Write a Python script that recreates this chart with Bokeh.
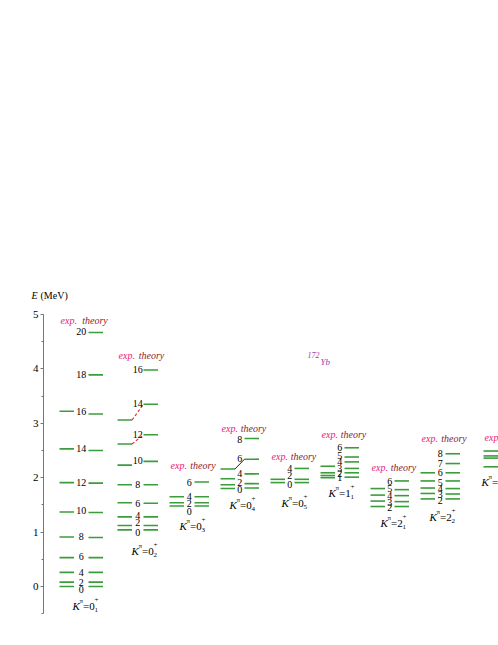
from bokeh.plotting import figure
from bokeh.models import Range1d, SingleIntervalTicker, Label
from bokeh.core.properties import value
from bokeh.embed import file_html
from bokeh.resources import INLINE

# ---------------- data ----------------
K_VAL = ["0", "0", "0", "0", "0", "1", "2", "2", "1"]
K_SUB = ["1", "2", "3", "4", "5", "1", "1", "2", "2"]

EXP_SPIN = [[0, 2, 4, 6, 8, 10, 12, 14, 16],
            [0, 2, 4, 6, 8, 10, 12, 14],
            [0, 2, 4],
            [0, 2, 4, 6],
            [0, 2],
            [1, 2, 3, 4],
            [2, 3, 4, 5],
            [2, 3, 4, 5, 6],
            [1, 2, 3, 4]]
EXP_E = [[0.00, 0.08, 0.26, 0.53, 0.91, 1.37, 1.91, 2.53, 3.22],
         [1.04, 1.12, 1.28, 1.54, 1.87, 2.23, 2.62, 3.06],
         [1.48, 1.54, 1.65],
         [1.80, 1.87, 1.98, 2.16],
         [1.91, 1.97],
         [2.00, 2.04, 2.09, 2.21],
         [1.47, 1.57, 1.68, 1.80],
         [1.61, 1.71, 1.81, 1.94, 2.09],
         [2.20, 2.36, 2.40, 2.49]]
TH_SPIN = [[0, 2, 4, 6, 8, 10, 12, 14, 16, 18, 20],
           [0, 2, 4, 6, 8, 10, 12, 14, 16],
           [0, 2, 4, 6],
           [0, 2, 4, 6, 8],
           [0, 2, 4],
           [1, 2, 3, 4, 5, 6],
           [2, 3, 4, 5, 6],
           [2, 3, 4, 5, 6, 7, 8],
           []]
TH_E = [[0.00, 0.08, 0.26, 0.53, 0.90, 1.36, 1.90, 2.50, 3.17, 3.89, 4.67],
        [1.04, 1.12, 1.28, 1.53, 1.87, 2.30, 2.79, 3.35, 3.98],
        [1.48, 1.54, 1.65, 1.92],
        [1.81, 1.89, 2.07, 2.34, 2.72],
        [1.91, 1.97, 2.17],
        [2.01, 2.09, 2.17, 2.29, 2.38, 2.55],
        [1.47, 1.56, 1.67, 1.78, 1.94],
        [1.61, 1.70, 1.80, 1.94, 2.09, 2.26, 2.44],
        []]
# where the spin numbers sit (spread apart where levels crowd)
LABEL_E = [[-0.06, 0.07, 0.25, 0.55, 0.915, 1.39, 1.91, 2.53, 3.22, 3.90, 4.68],
           [1.00, 1.17, 1.31, 1.53, 1.88, 2.31, 2.79, 3.37, 3.98],
           [1.37, 1.52, 1.66, 1.92],
           [1.78, 1.92, 2.08, 2.36, 2.70],
           [1.88, 2.04, 2.17],
           [2.01, 2.08, 2.17, 2.30, 2.41, 2.55],
           [1.46, 1.54, 1.68, 1.80, 1.93],
           [1.58, 1.69, 1.80, 1.92, 2.10, 2.26, 2.44],
           []]
HEAD_E = [4.89, 4.24, 2.22, 2.90, 2.39, 2.79, 2.18, 2.72, 2.73]
KLAB_E = [-0.35, 0.65, 1.12, 1.49, 1.53, 1.72, 1.16, 1.28, 1.92]
# exp -> theory connectors: (band, spin, kind)
CONNECT = [(1, 12, "red"), (1, 14, "red"), (3, 6, "black")]

# ---------------- layout ----------------
EXP_X0 = [59, 117, 169, 220, 270, 320, 370, 420, 483]
TH_X0 = [88, 143, 194, 244, 294, 344, 394, 445, 508]
KLAB_X0 = [72, 131, 179, 229, 281, 328, 380, 429, 481]
LEN = 14.5
LAB_X = [(a + LEN + b) / 2 for a, b in zip(EXP_X0, TH_X0)]

SERIF = value("Liberation Serif")
GREEN = "#3b9c3b"

p = figure(width=498, height=640, x_range=Range1d(0, 498),
           y_range=Range1d(-0.993, 10.772), x_axis_type=None,
           output_backend="svg", toolbar_location=None,
           min_border_left=0, min_border_right=0, min_border_top=0,
           min_border_bottom=0, outline_line_color=None,
           background_fill_color="white", border_fill_color="white")
p.grid.visible = False

ax = p.yaxis[0]
ax.fixed_location = 43
ax.ticker = SingleIntervalTicker(interval=1, num_minor_ticks=2)
ax.bounds = (-0.5, 5)
ax.axis_line_color = "#777777"
ax.major_tick_line_color = "#777777"
ax.minor_tick_line_color = "#777777"
ax.major_tick_out = 3
ax.major_tick_in = 0
ax.minor_tick_out = 2
ax.minor_tick_in = 0
ax.major_label_standoff = 2
ax.major_label_text_font = "Liberation Serif"
ax.major_label_text_font_size = "11px"
ax.major_label_text_color = "black"

# level lines
sx0, sx1, sy = [], [], []
for b in range(len(EXP_E)):
    for e in EXP_E[b]:
        sx0.append(EXP_X0[b]); sx1.append(EXP_X0[b] + LEN); sy.append(e)
    for e in TH_E[b]:
        sx0.append(TH_X0[b]); sx1.append(TH_X0[b] + LEN); sy.append(e)
p.segment(x0=sx0, y0=sy, x1=sx1, y1=sy, line_color=GREEN, line_width=1.6)

# connectors
for b, s, kind in CONNECT:
    ee = EXP_E[b][EXP_SPIN[b].index(s)]
    te = TH_E[b][TH_SPIN[b].index(s)]
    if kind == "red":
        p.segment(x0=[EXP_X0[b] + LEN], y0=[ee], x1=[TH_X0[b]], y1=[te],
                  line_color="#e8262a", line_width=1.1, line_dash="3 2")
    else:
        p.segment(x0=[EXP_X0[b] + LEN], y0=[ee], x1=[TH_X0[b]], y1=[te],
                  line_color="#222222", line_width=1)

# spin labels
lx, ly, lt = [], [], []
for b in range(len(TH_SPIN)):
    for s, e in zip(TH_SPIN[b], LABEL_E[b]):
        lx.append(LAB_X[b]); ly.append(e); lt.append(str(s))
p.text(x=lx, y=ly, text=lt, text_font=SERIF, text_font_size="10px",
       text_align="center", text_baseline="middle", text_color="black")

# headers
p.text(x=[x + 1 for x in EXP_X0], y=HEAD_E, text=["exp."] * len(HEAD_E),
       text_font=SERIF, text_font_style="italic", text_font_size="10px",
       text_color="#e8207c", text_baseline="middle", text_align="left")
p.text(x=[x + 1 for x in LAB_X], y=HEAD_E, text=["theory"] * len(HEAD_E),
       text_font=SERIF, text_font_style="italic", text_font_size="10px",
       text_color="#8e1b2b", text_baseline="middle", text_align="left")

# K^pi labels
kx0 = KLAB_X0
common = dict(text_font=SERIF, text_baseline="middle", text_align="left",
              text_color="black")
p.text(x=kx0, y=KLAB_E, text=["K"] * 9, text_font_style="italic",
       text_font_size="11px", **common)
p.text(x=[x + 7 for x in kx0], y=KLAB_E, text=["π"] * 9, y_offset=-5,
       text_font_size="7px", **common)
p.text(x=[x + 10.5 for x in kx0], y=KLAB_E, text=["=" + k for k in K_VAL],
       text_font_size="11px", **common)
p.text(x=[x + 22 for x in kx0], y=KLAB_E, text=K_SUB, y_offset=4,
       text_font_size="7px", **common)
p.text(x=[x + 22 for x in kx0], y=KLAB_E, text=["+"] * 9, y_offset=-6,
       text_font_size="7px", **common)

# axis title and nucleus name
p.add_layout(Label(x=31, y=5.35, text="E", text_font="Liberation Serif",
                   text_font_style="italic", text_font_size="10px",
                   text_baseline="middle", text_color="black"))
p.add_layout(Label(x=40, y=5.35, text="(MeV)", text_font="Liberation Serif",
                   text_font_size="10px", text_baseline="middle",
                   text_color="black"))
p.add_layout(Label(x=307, y=4.25, text="172", text_font="Liberation Serif",
                   text_font_style="italic", text_font_size="8px",
                   text_baseline="middle", text_color="#a03aa8"))
p.add_layout(Label(x=320, y=4.12, text="Yb", text_font="Liberation Serif",
                   text_font_style="italic", text_font_size="9px",
                   text_baseline="middle", text_color="#a03aa8"))

open("out.html", "w").write(file_html(p, INLINE))
